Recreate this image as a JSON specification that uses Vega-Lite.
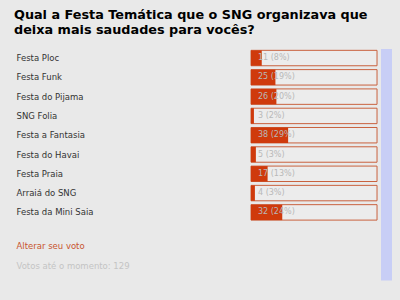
{
  "$schema": "https://vega.github.io/schema/vega-lite/v6.json",
  "width": 127,
  "height": 231.5,
  "autosize": {"type": "none"},
  "padding": {"left": 251, "top": 48.4, "right": 22, "bottom": 20.1},
  "background": "#e9e9e9",
  "title": {
    "text": ["Qual a Festa Temática que o SNG organizava que", "deixa mais saudades para vocês?"],
    "anchor": "start",
    "frame": "bounds",
    "font": "DejaVu Sans",
    "fontSize": 12.8,
    "fontWeight": "bold",
    "color": "#000000",
    "lineHeight": 15,
    "offset": 12,
    "dx": -2
  },
  "config": {"view": {"stroke": null}},
  "data": {
    "values": [
      {"option": "Festa Ploc", "votes": 11, "label": "11 (8%)"},
      {"option": "Festa Funk", "votes": 25, "label": "25 (19%)"},
      {"option": "Festa do Pijama", "votes": 26, "label": "26 (20%)"},
      {"option": "SNG Folia", "votes": 3, "label": "3 (2%)"},
      {"option": "Festa a Fantasia", "votes": 38, "label": "38 (29%)"},
      {"option": "Festa do Havai", "votes": 5, "label": "5 (3%)"},
      {"option": "Festa Praia", "votes": 17, "label": "17 (13%)"},
      {"option": "Arraiá do SNG", "votes": 4, "label": "4 (3%)"},
      {"option": "Festa da Mini Saia", "votes": 32, "label": "32 (24%)"}
    ]
  },
  "resolve": {"axis": {"y": "independent"}},
  "layer": [
    {
      "mark": {"type": "bar", "fill": "#ececec", "stroke": "#c9623f", "strokeWidth": 1, "cornerRadius": 0},
      "encoding": {
        "x": {"datum": 129, "type": "quantitative", "scale": {"domain": [0, 129]}, "axis": null},
        "y": {
          "field": "option",
          "type": "nominal",
          "sort": null,
          "scale": {
            "domain": ["Festa Ploc", "Festa Funk", "Festa do Pijama", "SNG Folia", "Festa a Fantasia", "Festa do Havai", "Festa Praia", "Arraiá do SNG", "Festa da Mini Saia", " ", "Alterar seu voto", "Votos até o momento: 129"],
            "paddingInner": 0.2,
            "paddingOuter": 0.1
          },
          "axis": {
            "title": null,
            "domain": false,
            "ticks": false,
            "grid": false,
            "labelAlign": "left",
            "labelPadding": 235,
            "labelFont": "DejaVu Sans",
            "labelFontSize": 8.5,
            "labelLimit": 0,
            "labelColor": {
              "condition": [
                {"test": "datum.value === 'Alterar seu voto'", "value": "#c8552f"},
                {"test": "datum.value === 'Votos até o momento: 129'", "value": "#c4c4c4"}
              ],
              "value": "#333333"
            },
            "labelOffset": {
              "condition": {"test": "datum.value === 'Alterar seu voto' || datum.value === 'Votos até o momento: 129'", "value": -4.5},
              "value": 0
            }
          }
        }
      }
    },
    {
      "mark": {"type": "bar", "fill": "#cf3a0c"},
      "encoding": {
        "x": {"field": "votes", "type": "quantitative"},
        "y": {"field": "option", "type": "nominal", "sort": null, "axis": null}
      }
    },
    {
      "mark": {"type": "text", "align": "left", "dx": 7, "font": "DejaVu Sans", "fontSize": 8, "fill": "#b8b8b8"},
      "encoding": {
        "x": {"datum": 0, "type": "quantitative"},
        "y": {
          "field": "option",
          "type": "nominal",
          "sort": null,
          "axis": {"orient": "right", "title": null, "labels": false, "ticks": false, "grid": false, "domain": true, "domainColor": "#c8cef6", "domainWidth": 11, "offset": 8}
        },
        "text": {"field": "label"}
      }
    }
  ]
}
